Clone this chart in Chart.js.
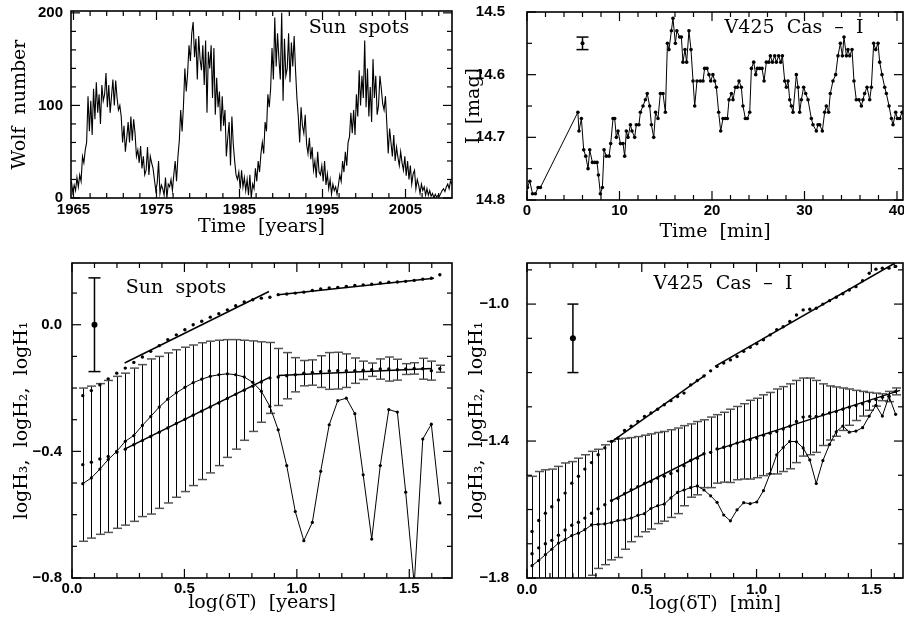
<!DOCTYPE html>
<html>
<head>
<meta charset="utf-8">
<title>Sun spots / V425 Cas</title>
<script src="https://cdn.jsdelivr.net/npm/chart.js@4.4.0/dist/chart.umd.min.js"></script>
<style>
  html, body { margin: 0; padding: 0; background: #fff; overflow: hidden; }
  canvas { position: absolute; }
</style>
</head>
<body>
<canvas id="sunTime" style="left:0;top:0" width="460" height="246"></canvas>
<canvas id="casTime" style="left:450px;top:0" width="470" height="246"></canvas>
<canvas id="sunLag" style="left:0;top:240px" width="460" height="378"></canvas>
<canvas id="casLag" style="left:450px;top:240px" width="470" height="378"></canvas>
<script>
// ---- top left: monthly-ish Wolf numbers, 6 samples per year from 1964.75
const sunStart = 1964.75;
const sunStep = 1 / 6;
const sunWolf = [
  18, 6, 14, 8, 22, 12,        25, 18, 45, 38, 52, 60,
  110, 72, 105, 68, 118, 85,   125, 92, 112, 80, 122, 105,
  112, 135, 98, 122, 92, 110,  128, 100, 127, 108, 95, 100,
  88, 60, 78, 50, 65, 82,      60, 88, 62, 85, 70, 45,
  52, 38, 56, 32, 45, 25,      30, 55, 25, 45, 38, 32,
  20, 8, 16, 40, 5, 14,        10, 3, 22, 0, 15, 12,
  20, 8, 25, 40, 18, 45,       62, 95, 72, 100, 140, 115,
  135, 165, 148, 178, 190, 152, 172, 128, 175, 150, 138, 165,
  122, 170, 92, 158, 140, 165, 108, 162, 90, 130, 98, 115,
  72, 110, 78, 95, 45, 65,     82, 35, 88, 58, 40, 25,
  20, 28, 10, 30, 12, 22,      8, 20, 3, 25, 0, 15,
  10, 32, 18, 40, 28, 48,      60, 48, 82, 72, 112, 98,
  118, 162, 128, 195, 142, 178, 150, 128, 200, 105, 172, 132,
  140, 178, 125, 168, 142, 175, 138, 108, 88, 60, 98, 78,
  70, 90, 58, 48, 65, 42,      55, 30, 40, 22, 50, 28,
  25, 35, 18, 40, 14, 26,      10, 20, 4, 15, 8, 12,
  4, 14, 25, 18, 40, 28,       50, 35, 60, 66, 92, 70,
  95, 68, 112, 88, 138, 100,   132, 108, 170, 98, 140, 88,
  120, 82, 150, 108, 132, 90,  100, 132, 118, 102, 95, 110,
  80, 48, 75, 60, 45, 68,      40, 55, 44, 35, 50, 38,
  30, 45, 24, 40, 20, 35,      15, 26, 30, 10, 20, 14,
  5, 15, 8, 12, 3, 10,         3, 8, 2, 5, 0, 4,
  1, 3, 2, 5, 8, 10,           7, 12, 15, 10, 18, 15
];
const sunYearTicks = [1965, 1975, 1985, 1995, 2005];
const sunWolfTicks = [0, 100, 200];

// ---- top right: V425 Cas I-band light curve
const casTimeMin = [
  0.05, 0.30, 0.60, 0.90, 1.20, 1.45,
  5.50, 5.62, 5.88, 6.13, 6.35, 6.60, 6.78, 7.07, 7.32, 7.57, 7.72, 7.93, 8.15, 8.33,
  8.58, 8.87, 9.05, 9.30, 9.48, 9.66, 9.84, 10.10, 10.38, 10.56, 10.74, 10.92, 11.18, 11.35,
  11.64, 11.82, 12.10, 12.26, 12.54, 12.80, 13.00, 13.26, 13.45, 13.70, 13.90, 14.16, 14.42,
  14.70, 14.96, 15.18, 15.35, 15.61, 15.78, 16.04, 16.20, 16.50, 16.69, 16.86, 17.08, 17.26,
  17.51, 17.73, 17.95, 18.13, 18.38, 18.74, 19.03, 19.20, 19.46, 19.67, 19.86, 20.10, 20.29,
  20.47, 20.72, 20.94, 21.19, 21.45, 21.66, 21.84, 22.10, 22.27, 22.53, 22.74, 22.92, 23.17,
  23.35, 23.61, 23.82, 24.08, 24.26, 24.51, 24.73, 24.90, 25.16, 25.41, 25.63, 25.88, 26.14,
  26.31, 26.53, 26.78, 26.96, 27.21, 27.43, 27.61, 27.86, 28.04, 28.22, 28.40, 28.58, 28.76,
  29.12, 29.30, 29.48, 29.66, 29.91, 30.13, 30.38, 30.74, 30.92, 31.28, 31.46, 31.64, 31.93,
  32.18, 32.36, 32.61, 32.79, 33.08, 33.37, 33.62, 33.88, 34.10, 34.27, 34.53, 34.70, 34.89,
  35.14, 35.35, 35.60, 35.89, 36.15, 36.32, 36.50, 36.76, 37.05, 37.23, 37.48, 37.70, 37.95,
  38.13, 38.38, 38.67, 38.85, 39.14, 39.40, 39.57, 39.86, 40.05, 40.30, 40.55
];
const casMagI = [
  14.78, 14.77, 14.79, 14.79, 14.78, 14.78,
  14.66, 14.69, 14.67, 14.72, 14.73, 14.75, 14.72, 14.74, 14.74, 14.74, 14.76, 14.79, 14.78, 14.72,
  14.73, 14.73, 14.71, 14.67, 14.67, 14.70, 14.69, 14.71, 14.71, 14.73, 14.69, 14.70, 14.68, 14.69,
  14.70, 14.68, 14.68, 14.66, 14.65, 14.64, 14.63, 14.65, 14.68, 14.70, 14.66, 14.67, 14.63,
  14.63, 14.66, 14.55, 14.56, 14.53, 14.51, 14.55, 14.53, 14.54, 14.54, 14.58, 14.56, 14.58,
  14.53, 14.56, 14.61, 14.65, 14.61, 14.61, 14.61, 14.59, 14.59, 14.60, 14.61, 14.60, 14.61,
  14.62, 14.66, 14.69, 14.67, 14.67, 14.67, 14.64, 14.63, 14.64, 14.62, 14.62, 14.61, 14.62,
  14.65, 14.67, 14.67, 14.66, 14.59, 14.58, 14.60, 14.59, 14.59, 14.59, 14.61, 14.58, 14.58,
  14.57, 14.58, 14.57, 14.58, 14.57, 14.58, 14.57, 14.61, 14.62, 14.61, 14.64, 14.65, 14.66,
  14.60, 14.62, 14.66, 14.64, 14.62, 14.63, 14.64, 14.67, 14.68, 14.69, 14.68, 14.68, 14.69,
  14.66, 14.65, 14.66, 14.63, 14.61, 14.60, 14.57, 14.55, 14.57, 14.54, 14.57, 14.56, 14.57,
  14.56, 14.61, 14.64, 14.64, 14.65, 14.64, 14.63, 14.62, 14.64, 14.62, 14.55, 14.56, 14.55,
  14.58, 14.60, 14.62, 14.63, 14.65, 14.67, 14.68, 14.66, 14.67, 14.67, 14.66
];
const casMinTicks = [0, 10, 20, 30, 40];
const casMagTicks = [14.5, 14.6, 14.7, 14.8];

// ---- bottom left: Sun spots, logH vs log(dT)
const sunLag = [
  0.048, 0.086, 0.124, 0.161, 0.199, 0.237, 0.275, 0.313, 0.350, 0.388, 0.426, 0.464, 0.502,
  0.539, 0.577, 0.615, 0.653, 0.691, 0.728, 0.766, 0.804, 0.842, 0.880, 0.917, 0.955, 0.993,
  1.031, 1.069, 1.106, 1.144, 1.182, 1.220, 1.258, 1.295, 1.333, 1.371, 1.409, 1.447, 1.484,
  1.522, 1.560, 1.598, 1.636
];
const sunH1 = [
  -0.224, -0.208, -0.190, -0.171, -0.153, -0.137, -0.119, -0.102, -0.084, -0.066, -0.047, -0.032, -0.016,
  0.000, 0.011, 0.024, 0.035, 0.047, 0.060, 0.072, 0.079, 0.084, 0.087, 0.095, 0.097, 0.100,
  0.103, 0.108, 0.113, 0.116, 0.118, 0.121, 0.124, 0.126, 0.128, 0.132, 0.134, 0.135, 0.137,
  0.140, 0.144, 0.147, 0.158
];
const sunH2 = [
  -0.442, -0.434, -0.424, -0.416, -0.403, -0.393, -0.379, -0.366, -0.353, -0.340, -0.326, -0.312, -0.299,
  -0.286, -0.273, -0.260, -0.247, -0.233, -0.220, -0.207, -0.194, -0.181, -0.168, -0.165, -0.161, -0.158,
  -0.153, -0.151, -0.148, -0.146, -0.145, -0.145, -0.145, -0.144, -0.142, -0.140, -0.140, -0.142, -0.140,
  -0.138, -0.139, -0.145, -0.139
];
const sunH2Err = [
  0.242, 0.240, 0.238, 0.240, 0.240, 0.240, 0.242, 0.240, 0.245, 0.240, 0.237, 0.233, 0.228,
  0.222, 0.216, 0.208, 0.198, 0.186, 0.173, 0.158, 0.143, 0.127, 0.112, 0.090, 0.073, 0.054,
  0.040, 0.040, 0.050, 0.058, 0.058, 0.053, 0.040, 0.029, 0.021, 0.032, 0.038, 0.033, 0.017,
  0.018, 0.033, 0.030, 0.011
];
const sunH3 = [
  -0.502, -0.484, -0.456, -0.426, -0.400, -0.368, -0.350, -0.318, -0.290, -0.260, -0.235, -0.215, -0.198,
  -0.183, -0.172, -0.163, -0.158, -0.155, -0.158, -0.165, -0.182, -0.210, -0.258, -0.332, -0.445, -0.590,
  -0.682, -0.624, -0.463, -0.316, -0.240, -0.232, -0.281, -0.474, -0.677, -0.445, -0.268, -0.276, -0.529,
  -0.820, -0.361, -0.314, -0.563
];
const sunFitH1 = [[[0.234, -0.121], [0.876, 0.105]], [[0.917, 0.095], [1.610, 0.147]]];
const sunFitH2 = [[[0.234, -0.393], [0.874, -0.168]], [[0.917, -0.160], [1.600, -0.138]]];
const lagTicks = [0.0, 0.5, 1.0, 1.5];
const sunLogTicks = [0.0, -0.4, -0.8];

// ---- bottom right: V425 Cas, logH vs log(dT)
const casLag = [
  0.022, 0.051, 0.080, 0.108, 0.137, 0.166, 0.195, 0.224, 0.252, 0.281, 0.310, 0.339, 0.368, 0.396,
  0.425, 0.454, 0.483, 0.512, 0.540, 0.569, 0.598, 0.627, 0.656, 0.684, 0.713, 0.742, 0.771, 0.800,
  0.828, 0.857, 0.886, 0.915, 0.944, 0.972, 1.001, 1.030, 1.059, 1.088, 1.116, 1.145, 1.174, 1.203,
  1.232, 1.260, 1.289, 1.318, 1.347, 1.376, 1.404, 1.433, 1.462, 1.491, 1.520, 1.548, 1.577, 1.606
];
const casH1 = [
  -1.664, -1.632, -1.611, -1.592, -1.572, -1.552, -1.523, -1.503, -1.482, -1.463, -1.440, -1.420, -1.401, -1.392,
  -1.369, -1.357, -1.343, -1.328, -1.318, -1.307, -1.294, -1.282, -1.270, -1.260, -1.236, -1.223, -1.210, -1.195,
  -1.182, -1.172, -1.163, -1.153, -1.138, -1.126, -1.116, -1.104, -1.090, -1.075, -1.066, -1.051, -1.032, -1.017,
  -1.015, -1.012, -1.000, -0.990, -0.980, -0.970, -0.959, -0.949, -0.932, -0.910, -0.898, -0.895, -0.895, -0.890
];
const casH2 = [
  -1.729, -1.712, -1.700, -1.690, -1.675, -1.660, -1.646, -1.637, -1.625, -1.611, -1.598, -1.586, -1.574, -1.567,
  -1.554, -1.542, -1.533, -1.524, -1.518, -1.508, -1.503, -1.495, -1.487, -1.472, -1.457, -1.450, -1.437, -1.433,
  -1.423, -1.418, -1.414, -1.406, -1.401, -1.396, -1.391, -1.383, -1.377, -1.372, -1.365, -1.357, -1.343, -1.330,
  -1.328, -1.328, -1.323, -1.318, -1.314, -1.307, -1.301, -1.296, -1.291, -1.284, -1.279, -1.272, -1.270, -1.255
];
const casH2Err = [
  0.226, 0.223, 0.216, 0.208, 0.201, 0.196, 0.186, 0.187, 0.185, 0.181, 0.174, 0.175, 0.173, 0.173,
  0.162, 0.152, 0.146, 0.141, 0.139, 0.133, 0.131, 0.128, 0.125, 0.117, 0.107, 0.107, 0.099, 0.103,
  0.100, 0.102, 0.107, 0.107, 0.110, 0.115, 0.116, 0.118, 0.119, 0.124, 0.124, 0.124, 0.120, 0.114,
  0.112, 0.105, 0.090, 0.079, 0.072, 0.062, 0.053, 0.044, 0.036, 0.026, 0.019, 0.010, 0.015, 0.010
];
const casH3 = [
  -1.764, -1.749, -1.732, -1.716, -1.698, -1.688, -1.676, -1.669, -1.659, -1.645, -1.643, -1.642, -1.638, -1.632,
  -1.630, -1.625, -1.617, -1.612, -1.597, -1.589, -1.584, -1.566, -1.550, -1.543, -1.536, -1.531, -1.543, -1.560,
  -1.579, -1.616, -1.633, -1.601, -1.580, -1.583, -1.578, -1.545, -1.495, -1.440, -1.419, -1.401, -1.402, -1.420,
  -1.455, -1.524, -1.457, -1.410, -1.373, -1.356, -1.374, -1.371, -1.361, -1.327, -1.296, -1.327, -1.269, -1.322
];
const casFitH1 = [[[0.371, -1.401], [0.778, -1.207]], [[0.819, -1.182], [1.603, -0.880]]];
const casFitH2 = [[[0.368, -1.574], [0.771, -1.437]], [[0.826, -1.425], [1.625, -1.252]]];
const casLogTicks = [-1.0, -1.4, -1.8];

const TICK_FONT = { family: '"Liberation Sans", Arial, sans-serif', size: 15, weight: 'bold' };
const TITLE_FONT = { family: '"DejaVu Serif", serif', size: 19 };

// extra drawing per panel: frame with inward ticks, error bars, the error marker, the label
const decor = {
  sunTime: { x0: 1965, xMinor: 2, xMajor: 10, y0: 0, yMinor: 20, yMajor: 100,
             label: { text: 'Sun  spots', dx: 288, dy: 22 } },
  casTime: { x0: 0, xMinor: 2, xMajor: 10, y0: 14.5, yMinor: 0.05, yMajor: 0.1,
             label: { text: 'V425  Cas  \u2013  I', dx: 267, dy: 21 },
             marker: { x: 6.0, y: 14.55, err: 0.01, cap: 6, r: 2 } },
  sunLag: { x0: 0, xMinor: 0.1, xMajor: 0.5, y0: 0, yMinor: 0.1, yMajor: 0.4,
            label: { text: 'Sun  spots', dx: 104, dy: 30 },
            marker: { x: 0.1, y: 0.0, err: 0.148, cap: 6, r: 3 },
            bars: { x: sunLag, y: sunH2, err: sunH2Err, cap: 4.5 } },
  casLag: { x0: 0, xMinor: 0.1, xMajor: 0.5, y0: -1.8, yMinor: 0.1, yMajor: 0.4,
            label: { text: 'V425  Cas  \u2013  I', dx: 196, dy: 26 },
            marker: { x: 0.2, y: -1.1, err: 0.1, cap: 5.5, r: 3 },
            bars: { x: casLag, y: casH2, err: casH2Err, cap: 4.5 } }
};

function line(ctx, x1, y1, x2, y2) {
  ctx.beginPath(); ctx.moveTo(x1, y1); ctx.lineTo(x2, y2); ctx.stroke();
}

const panelDecor = {
  id: 'panelDecor',
  beforeDatasetsDraw(chart) {
    const d = decor[chart.canvas.id];
    if (!d || !d.bars) return;
    const { ctx, chartArea: a, scales: { x, y } } = chart;
    ctx.save();
    ctx.beginPath(); ctx.rect(a.left, a.top, a.width, a.height); ctx.clip();
    d.bars.x.forEach((xv, i) => {
      const px = Math.round(x.getPixelForValue(xv)) + 0.5;
      const top = y.getPixelForValue(d.bars.y[i] + d.bars.err[i]);
      const bot = y.getPixelForValue(d.bars.y[i] - d.bars.err[i]);
      ctx.strokeStyle = '#000'; ctx.lineWidth = 1;
      line(ctx, px, top, px, bot);
      ctx.strokeStyle = '#555'; ctx.lineWidth = 1.5;
      line(ctx, px - d.bars.cap, top, px + d.bars.cap, top);
      line(ctx, px - d.bars.cap, bot, px + d.bars.cap, bot);
    });
    ctx.restore();
  },
  afterDatasetsDraw(chart) {
    const d = decor[chart.canvas.id];
    if (!d) return;
    const { ctx, chartArea: a, scales: { x, y } } = chart;
    ctx.save();
    ctx.strokeStyle = '#000';
    ctx.lineWidth = 1.6;
    ctx.strokeRect(a.left, a.top, a.width, a.height);

    // inward tick marks on all four sides
    ctx.lineWidth = 1.2;
    const isMajor = (v, v0, step) => Math.abs((v - v0) / step - Math.round((v - v0) / step)) < 1e-6;
    const kx0 = Math.ceil((x.min - d.x0) / d.xMinor - 1e-6);
    for (let k = kx0; d.x0 + k * d.xMinor <= x.max + 1e-9; k++) {
      const v = d.x0 + k * d.xMinor;
      const len = isMajor(v, d.x0, d.xMajor) ? 9 : 5;
      const px = x.getPixelForValue(v);
      line(ctx, px, a.bottom, px, a.bottom - len);
      line(ctx, px, a.top, px, a.top + len);
    }
    const ky0 = Math.ceil((y.min - d.y0) / d.yMinor - 1e-6);
    for (let k = ky0; d.y0 + k * d.yMinor <= y.max + 1e-9; k++) {
      const v = d.y0 + k * d.yMinor;
      const len = isMajor(v, d.y0, d.yMajor) ? 9 : 5;
      const py = y.getPixelForValue(v);
      line(ctx, a.left, py, a.left + len, py);
      line(ctx, a.right, py, a.right - len, py);
    }

    // typical error bar
    if (d.marker) {
      const m = d.marker;
      const px = x.getPixelForValue(m.x);
      const t = y.getPixelForValue(m.y + m.err);
      const b = y.getPixelForValue(m.y - m.err);
      ctx.lineWidth = 1.5;
      line(ctx, px, t, px, b);
      line(ctx, px - m.cap, t, px + m.cap, t);
      line(ctx, px - m.cap, b, px + m.cap, b);
      ctx.fillStyle = '#000';
      ctx.beginPath(); ctx.arc(px, y.getPixelForValue(m.y), m.r, 0, Math.PI * 2); ctx.fill();
    }

    if (d.label) {
      ctx.fillStyle = '#000';
      ctx.font = '19px "DejaVu Serif", serif';
      ctx.textAlign = 'center';
      ctx.textBaseline = 'alphabetic';
      ctx.fillText(d.label.text, a.left + d.label.dx, a.top + d.label.dy);
    }
    ctx.restore();
  }
};

const minus = (v, digits) => (v < -1e-9 ? '\u2212' : '') + Math.abs(v).toFixed(digits);

function axis(opts) {
  return {
    type: 'linear',
    position: opts.position,
    min: opts.min,
    max: opts.max,
    reverse: !!opts.reverse,
    grid: { display: false, drawTicks: false },
    border: { display: false },
    ticks: {
      autoSkip: false, maxRotation: 0, minRotation: 0,
      padding: opts.pad, color: '#000', font: TICK_FONT,
      callback: opts.fmt
    },
    title: {
      display: true, text: opts.title, color: '#000', font: TITLE_FONT,
      padding: opts.titlePad
    },
    afterBuildTicks: (scale) => { scale.ticks = opts.ticks.map(v => ({ value: v })); },
    afterFit: (scale) => {
      if (opts.position === 'left') scale.width = opts.size;
      else scale.height = opts.size;
      // keep the plot frame exactly where the layout puts it
      scale.paddingTop = 0; scale.paddingBottom = 0;
      scale.paddingLeft = 0; scale.paddingRight = 0;
    }
  };
}

const pts = (xs, ys) => xs.map((v, i) => ({ x: v, y: ys[i] }));
const seg = (s) => s.map(p => ({ x: p[0], y: p[1] }));

function dotSet(data, r) {
  return { data, showLine: false, pointRadius: r, pointBackgroundColor: '#000', pointBorderWidth: 0 };
}
function curveSet(data, r, w) {
  return { data, showLine: true, borderColor: '#000', borderWidth: w, pointRadius: r,
           pointBackgroundColor: '#000', pointBorderWidth: 0, tension: 0 };
}

function makeChart(id, padTop, padRight, datasets, xAxis, yAxis) {
  return new Chart(document.getElementById(id), {
    type: 'scatter',
    data: { datasets },
    options: {
      responsive: false,
      animation: false,
      layout: { padding: { top: padTop, right: padRight, left: 0, bottom: 0 } },
      plugins: { legend: { display: false }, tooltip: { enabled: false } },
      scales: { x: xAxis, y: yAxis }
    },
    plugins: [panelDecor]
  });
}

makeChart('sunTime', 11, 8,
  [curveSet(sunWolf.map((v, i) => ({ x: sunStart + i * sunStep, y: v })), 0, 1.1)],
  axis({ position: 'bottom', min: 1964.7, max: 2010.6, ticks: sunYearTicks, fmt: v => String(v),
         pad: 3, title: 'Time  [years]', titlePad: { top: 0, bottom: 8 }, size: 48 }),
  axis({ position: 'left', min: 0, max: 202, ticks: sunWolfTicks, fmt: v => String(v),
         pad: 8, title: 'Wolf  number', titlePad: { top: 9, bottom: 0 }, size: 71 })
);

makeChart('casTime', 12, 17,
  [curveSet(pts(casTimeMin, casMagI), 1.8, 1)],
  axis({ position: 'bottom', min: 0, max: 40.65, ticks: casMinTicks, fmt: v => String(v),
         pad: 2, title: 'Time  [min]', titlePad: { top: 0, bottom: 3 }, size: 46 }),
  axis({ position: 'left', min: 14.5, max: 14.8, reverse: true, ticks: casMagTicks, fmt: v => v.toFixed(1),
         pad: 22, title: 'I  [mag]', titlePad: { top: 13, bottom: 0 }, size: 77 })
);

makeChart('sunLag', 23, 8,
  [
    curveSet(pts(sunLag, sunH3), 1.6, 1),
    dotSet(pts(sunLag, sunH2), 1.7),
    dotSet(pts(sunLag, sunH1), 1.7),
    curveSet(seg(sunFitH1[0]), 0, 1.5),
    curveSet(seg(sunFitH1[1]), 0, 1.5),
    curveSet(seg(sunFitH2[0]), 0, 1.5),
    curveSet(seg(sunFitH2[1]), 0, 1.5)
  ],
  axis({ position: 'bottom', min: 0, max: 1.69, ticks: lagTicks, fmt: v => v.toFixed(1),
         pad: 2, title: 'log(\u03b4T)  [years]', titlePad: { top: 0, bottom: 4 }, size: 40 }),
  axis({ position: 'left', min: -0.8, max: 0.195, ticks: sunLogTicks, fmt: v => minus(v, 1),
         pad: 10, title: 'logH\u2083,  logH\u2082,  logH\u2081', titlePad: { top: 11, bottom: 0 }, size: 72 })
);

makeChart('casLag', 23, 17,
  [
    curveSet(pts(casLag, casH3), 1.6, 1),
    dotSet(pts(casLag, casH2), 1.7),
    dotSet(pts(casLag, casH1), 1.7),
    curveSet(seg(casFitH1[0]), 0, 1.5),
    curveSet(seg(casFitH1[1]), 0, 1.5),
    curveSet(seg(casFitH2[0]), 0, 1.5),
    curveSet(seg(casFitH2[1]), 0, 1.5)
  ],
  axis({ position: 'bottom', min: 0, max: 1.638, ticks: lagTicks, fmt: v => v.toFixed(1),
         pad: 3, title: 'log(\u03b4T)  [min]', titlePad: { top: 0, bottom: 3 }, size: 40 }),
  axis({ position: 'left', min: -1.8, max: -0.88, ticks: casLogTicks, fmt: v => minus(v, 1),
         pad: 18, title: 'logH\u2083,  logH\u2082,  logH\u2081', titlePad: { top: 16, bottom: 0 }, size: 77 })
);
</script>
</body>
</html>
